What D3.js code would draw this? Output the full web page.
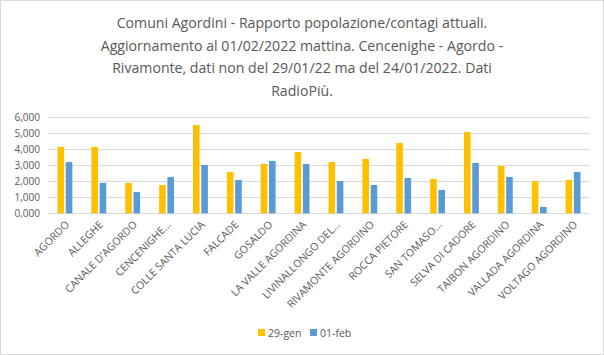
<!DOCTYPE html>
<html><head><meta charset="utf-8">
<script src="https://cdn.jsdelivr.net/npm/d3@7"></script>
<style>body{margin:0;background:#fff;} text{font-family:"Open Sans","Liberation Sans",sans-serif;}</style>
</head><body><svg id="c" width="604" height="355"></svg>
<script>
const categories = ["AGORDO","ALLEGHE","CANALE D'AGORDO","CENCENIGHE...","COLLE SANTA LUCIA","FALCADE","GOSALDO","LA VALLE AGORDINA","LIVINALLONGO DEL...","RIVAMONTE AGORDINO","ROCCA PIETORE","SAN TOMASO...","SELVA DI CADORE","TAIBON AGORDINO","VALLADA AGORDINA","VOLTAGO AGORDINO"];
const seriesNames = ["29-gen","01-feb"];
const gen29 = [4150,4150,1900,1770,5520,2580,3080,3830,3210,3400,4400,2150,5080,2960,2020,2080];
const feb01 = [3200,1900,1330,2270,3020,2080,3270,3080,2020,1770,2210,1460,3150,2270,400,2580];
const yTicks = [0,1000,2000,3000,4000,5000,6000];
const titleLines = ["Comuni Agordini - Rapporto popolazione/contagi attuali.","Aggiornamento al 01/02/2022 mattina. Cencenighe - Agordo -","Rivamonte, dati non del 29/01/22 ma del 24/01/2022. Dati","RadioPiù."];
const colors = ["#FFC000","#5B9BD5"];

const svg = d3.select("#c");
svg.append("rect").attr("x",0.5).attr("y",0.5).attr("width",603).attr("height",354).attr("fill","#fff").attr("stroke","#d9d9d9");

// title
const tg = svg.append("g");
titleLines.forEach((t,i)=>{
  tg.append("text").attr("x",302).attr("y",28+i*22.5).attr("text-anchor","middle")
    .attr("fill","#595959").style("font-family","'Liberation Sans Narrow','Open Sans',sans-serif")
    .style("font-size","17px").text(t);
});
const n0 = tg.select("text").node();
const w0 = n0.getComputedTextLength();
const fs = Math.min(19, 17*371/w0);
tg.selectAll("text").style("font-size",fs+"px");

const pLeft=48, pRight=590, pTop=117.3, pBottom=213.3;
const x = d3.scaleBand().domain(categories).range([pLeft,pRight]);
const y = d3.scaleLinear().domain([0,6000]).range([pBottom,pTop]);
const xs = d3.scaleBand().domain(seriesNames).range([0,x.bandwidth()]).paddingInner(0.2).paddingOuter(1.15);

// gridlines
svg.append("g").selectAll("line").data(yTicks).join("line")
  .attr("x1",pLeft).attr("x2",pRight).attr("y1",d=>Math.round(y(d))+0.5).attr("y2",d=>Math.round(y(d))+0.5)
  .attr("stroke","#d9d9d9").attr("stroke-width",1);

// y axis labels
const yg = svg.append("g").attr("transform",`translate(${pLeft-8},0)`)
  .call(d3.axisLeft(y).tickValues(yTicks).tickSize(0).tickPadding(0)
  .tickFormat(d=>Math.floor(d/1000)+","+String(d%1000).padStart(3,"0")));
yg.select(".domain").remove();
yg.selectAll("text").attr("fill","#595959").style("font-size","10px").style("font-family","'Open Sans',sans-serif");

// bars
const data = [gen29, feb01];
data.forEach((vals,si)=>{
  svg.append("g").selectAll("rect").data(vals).join("rect")
    .attr("x",(d,i)=>x(categories[i])+xs(seriesNames[si]))
    .attr("width",xs.bandwidth())
    .attr("y",d=>y(d)).attr("height",d=>pBottom-y(d))
    .attr("fill",colors[si]);
});

// x axis
const xg = svg.append("g").attr("transform",`translate(0,${pBottom})`).call(d3.axisBottom(x).tickSize(0).tickPadding(0));
xg.select(".domain").remove();
xg.selectAll("text").attr("fill","#595959").style("font-size","10.5px").attr("text-anchor","end")
  .attr("dy",0).attr("transform","translate(5,12) rotate(-45)");

// legend
const lg = svg.append("g").attr("transform","translate(258,333)");
seriesNames.forEach((s,i)=>{
  const g = lg.append("g").attr("transform",`translate(${i*52},0)`);
  g.append("rect").attr("x",0).attr("y",-4).attr("width",7).attr("height",7).attr("fill",colors[i]);
  g.append("text").attr("x",10).attr("y",4).attr("fill","#595959").style("font-size","10.5px").text(s);
});
</script></body></html>
